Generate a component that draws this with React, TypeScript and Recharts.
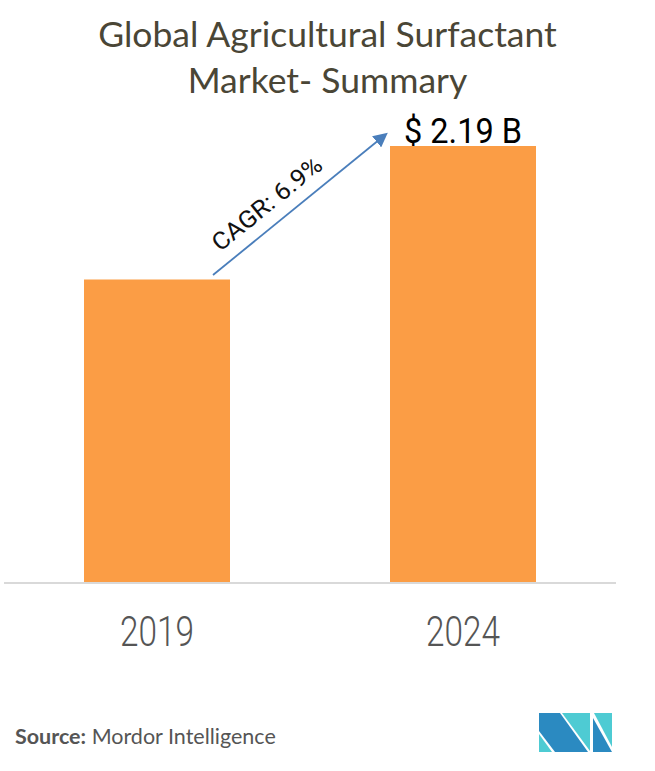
import { Bar, BarChart, Customized, LabelList, XAxis, YAxis } from 'recharts'

const years = ['2019', '2024']
const marketSize = [1.52, 2.19]
const valueLabels = ['', '$ 2.19 B']
const cagrText = 'CAGR: 6.9%'

const data = years.map((year, i) => ({ year, value: marketSize[i], label: valueLabels[i] }))

const ORANGE = '#fb9d45'
const FONT = 'Roboto, "Open Sans", sans-serif'

function YearTick(props: any) {
  const { x, y, payload } = props
  return (
    <text
      x={x}
      y={y + 55}
      textAnchor="middle"
      fontFamily={FONT}
      fontWeight={300}
      fontSize={43}
      fill="#555"
      textLength={74}
      lengthAdjust="spacingAndGlyphs"
    >
      {payload.value}
    </text>
  )
}

function ValueLabel(props: any) {
  const { x, y, width, value } = props
  if (!value) return null
  return (
    <text
      x={x + width / 2}
      y={y - 3}
      textAnchor="middle"
      fontFamily={FONT}
      fontSize={35}
      fill="#000"
      textLength={118}
      lengthAdjust="spacingAndGlyphs"
    >
      {value}
    </text>
  )
}

function Annotations() {
  return (
    <g>
      <defs>
        <marker id="arrowHead" markerWidth="8" markerHeight="8" refX="6" refY="4" orient="auto">
          <path d="M0,0 L8,4 L0,8 Z" fill="#4a7ebb" />
        </marker>
      </defs>
      <line x1={213} y1={275} x2={385} y2={135} stroke="#4a7ebb" strokeWidth={1.8} markerEnd="url(#arrowHead)" />
      <text
        x={272}
        y={210}
        transform="rotate(-39 272 210)"
        textAnchor="middle"
        fontFamily={FONT}
        fontSize={24}
        fill="#111"
        textLength={134}
        lengthAdjust="spacingAndGlyphs"
      >
        {cagrText}
      </text>
      {/* logo */}
      <polygon points="539,713 560,713 588,752 555,752 539,731" fill="#2b8ac1" />
      <polygon points="539,734 539,752 552,752" fill="#4ecbd3" />
      <polygon points="562,713 590,713 590,751" fill="#4ecbd3" />
      <polygon points="594,713 612,713 612,747" fill="#4ecbd3" />
      <polygon points="593,718 593,752 612,752" fill="#2b8ac1" />
    </g>
  )
}

export default function App() {
  return (
    <div style={{ position: 'absolute', left: 0, top: 0, width: 655, height: 771, background: '#fff' }}>
      <div
        style={{
          position: 'absolute',
          top: 11,
          left: 0,
          width: 655,
          textAlign: 'center',
          fontFamily: 'Lato, "Open Sans", sans-serif',
          fontSize: 35.5,
          lineHeight: '46px',
          color: '#4a4636',
        }}
      >
        Global Agricultural Surfactant
        <br />
        Market- Summary
      </div>
      <BarChart
        width={655}
        height={771}
        data={data}
        margin={{ top: 84, right: 39, bottom: 158, left: 4 }}
      >
        <XAxis
          dataKey="year"
          axisLine={{ stroke: '#d9d9d9', strokeWidth: 2 }}
          tickLine={false}
          tick={<YearTick />}
        />
        <YAxis hide domain={[0, 2.5]} />
        <Bar dataKey="value" fill={ORANGE} barSize={146} isAnimationActive={false}>
          <LabelList dataKey="label" content={<ValueLabel />} />
        </Bar>
        <Customized component={Annotations} />
      </BarChart>
      <div
        style={{
          position: 'absolute',
          left: 15,
          top: 723,
          fontFamily: 'Lato, "Open Sans", sans-serif',
          fontSize: 21.5,
          color: '#555',
        }}
      >
        <b>Source:</b> Mordor Intelligence
      </div>
    </div>
  )
}
